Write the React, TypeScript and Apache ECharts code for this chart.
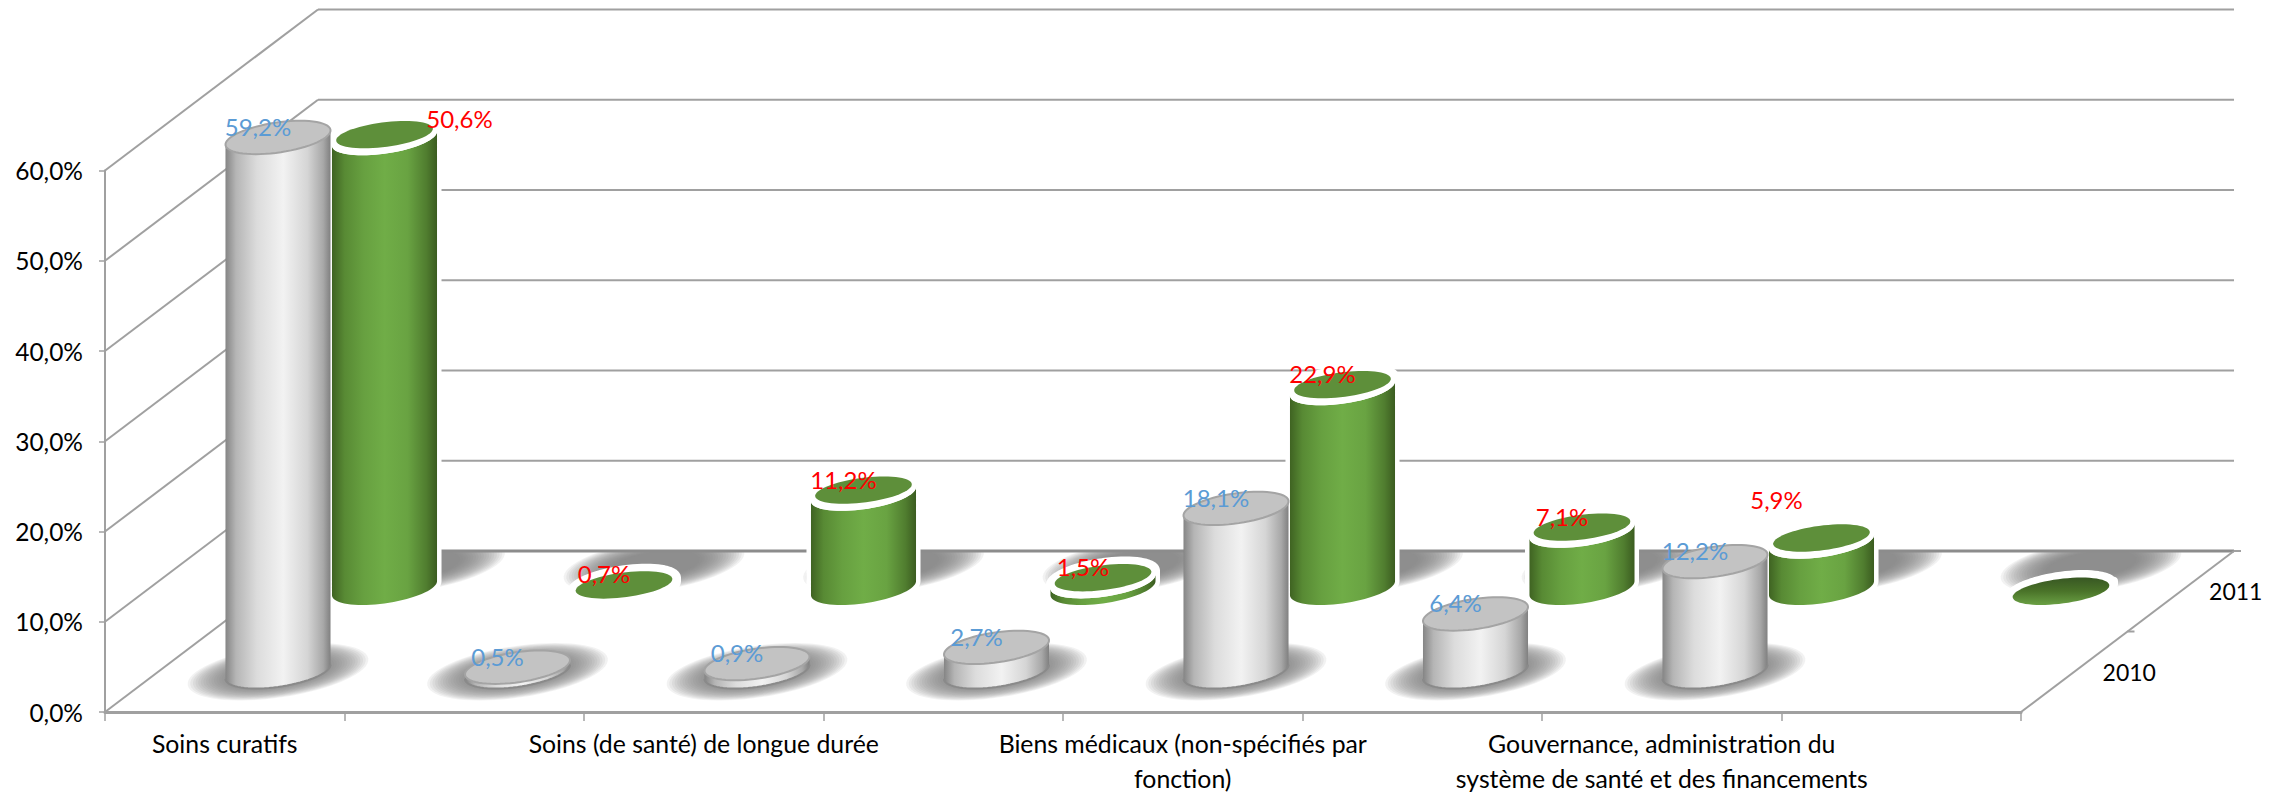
import React, { useEffect, useRef } from "react";
import * as echarts from "echarts";

const categories = [
  "Soins curatifs",
  "",
  "Soins (de santé) de longue durée",
  "",
  "Biens médicaux (non-spécifiés par\nfonction)",
  "",
  "Gouvernance, administration du\nsystème de santé et des financements",
  "",
];
const values2010: (number | null)[] = [59.2, 0.5, 0.9, 2.7, 18.1, 6.4, 12.2, null];
const values2011: (number | null)[] = [50.6, 0.7, 11.2, 1.5, 22.9, 7.1, 5.9, 0];
const yTicks = [0, 10, 20, 30, 40, 50, 60];
const seriesNames = ["2010", "2011"];

const DEPTH_X = 213;
const DEPTH_Y = -161;
const ROW_DEPTH = [0.25, 0.75];
const ELL_A = 47.6;
const ELL_BX = 22.2;
const ELL_BY = -16.7;
const T0 = Math.atan2(ELL_BX, ELL_A);
const FONT_FAMILY = "Lato, Carlito, sans-serif";
const LABEL_FONT = `24px ${FONT_FAMILY}`;
const DEPTH_FONT = `23px ${FONT_FAMILY}`;

const AXIS_GREY = "#a0a0a0";
const BLUE = "#5b9bd5";
const RED = "#ff0000";

function fmt(v: number) {
  return v.toFixed(1).replace(".", ",") + "%";
}

function pt(cx: number, cy: number, t: number, sx = 1, sy = 1) {
  return [
    cx + sx * (ELL_A * Math.cos(t) + ELL_BX * Math.sin(t)),
    cy + sy * ELL_BY * Math.sin(t),
  ];
}
function arc(cx: number, cy: number, from: number, to: number, sx = 1, sy = 1, n = 36) {
  const out: number[][] = [];
  for (let i = 0; i <= n; i++) out.push(pt(cx, cy, from + ((to - from) * i) / n, sx, sy));
  return out;
}
function fullEllipse(cx: number, cy: number, sx = 1, sy = 1) {
  return arc(cx, cy, 0, Math.PI * 2, sx, sy, 64);
}

function toData(vals: (number | null)[]) {
  const out: number[][] = [];
  vals.forEach((v, i) => {
    if (v !== null) out.push([i, v]);
  });
  return out;
}

const greyGrad = () =>
  new echarts.graphic.LinearGradient(0, 0, 1, 0, [
    { offset: 0, color: "#858585" },
    { offset: 0.1, color: "#b5b5b5" },
    { offset: 0.3, color: "#dcdcdc" },
    { offset: 0.55, color: "#f2f2f2" },
    { offset: 0.78, color: "#d5d5d5" },
    { offset: 0.93, color: "#a8a8a8" },
    { offset: 1, color: "#808080" },
  ]);
const greenGrad = () =>
  new echarts.graphic.LinearGradient(0, 0, 1, 0, [
    { offset: 0, color: "#3f6322" },
    { offset: 0.12, color: "#588a34" },
    { offset: 0.3, color: "#67a040" },
    { offset: 0.5, color: "#70ad47" },
    { offset: 0.72, color: "#69a342" },
    { offset: 0.9, color: "#507d2f" },
    { offset: 1, color: "#3b5c20" },
  ]);
const zeroGrad = () =>
  new echarts.graphic.LinearGradient(0, 0, 0, 1, [
    { offset: 0, color: "#385723" },
    { offset: 0.5, color: "#4a7329" },
    { offset: 1, color: "#6aa044" },
  ]);

function base(api: any, row: number) {
  const p = api.coord([api.value(0), 0]);
  const top = api.coord([api.value(0), api.value(1)]);
  const d = ROW_DEPTH[row];
  return {
    cx: p[0] + d * DEPTH_X,
    by: p[1] + d * DEPTH_Y,
    ty: top[1] + d * DEPTH_Y,
  };
}

function renderShadow(row: number) {
  return (_: any, api: any) => {
    const { cx, by } = base(api, row);
    const scx = row === 0 ? cx : cx + 30;
    const scy = row === 0 ? by : by - 26;
    const children: any[] = [];
    const layers = 18;
    for (let i = 0; i < layers; i++) {
      const s = 1.72 - (i / (layers - 1)) * 0.85;
      children.push({
        type: "polygon",
        shape: { points: fullEllipse(scx, scy, s, s) },
        style: { fill: "#808080", opacity: 0.1 },
        silent: true,
      });
    }
    return { type: "group", children };
  };
}

function renderCylinderGreen(_: any, api: any) {
  const { cx, by, ty } = base(api, 1);
  const v = api.value(1);
  const bottom = by - 3;
  const bodyTop = Math.min(ty + 4, bottom);
  const lowerB = arc(cx, bottom, T0 + Math.PI, T0 + 2 * Math.PI);
  const lowerT = arc(cx, bodyTop, T0 + Math.PI, T0 + 2 * Math.PI).reverse();
  const upperT = arc(cx, ty, T0, T0 + Math.PI);
  const children: any[] = [
    {
      type: "polygon",
      shape: { points: lowerB.concat(upperT) },
      style: { fill: "#fff", stroke: "#fff", lineWidth: 9, lineJoin: "round" },
    },
  ];
  if (v > 0) {
    children.push({
      type: "polygon",
      shape: { points: lowerB.concat(lowerT) },
      style: { fill: greenGrad() },
    });
    children.push({
      type: "polygon",
      shape: { points: fullEllipse(cx, bodyTop) },
      style: { fill: "#fff" },
    });
  }
  children.push({
    type: "polygon",
    shape: { points: fullEllipse(cx, ty, 0.92, 0.82) },
    style: { fill: v > 0 ? "#5e8f3a" : zeroGrad() },
  });
  return { type: "group", children };
}

function renderCylinderGrey(_: any, api: any) {
  const { cx, by, ty } = base(api, 0);
  const lowerB = arc(cx, by, T0 + Math.PI, T0 + 2 * Math.PI);
  const lowerT = arc(cx, ty, T0 + Math.PI, T0 + 2 * Math.PI).reverse();
  return {
    type: "group",
    children: [
      {
        type: "polygon",
        shape: { points: lowerB.concat(lowerT) },
        style: { fill: greyGrad() },
      },
      {
        type: "polyline",
        shape: { points: lowerB },
        style: { fill: "none", stroke: "#8a8a8a", lineWidth: 2 },
      },
      {
        type: "polygon",
        shape: { points: fullEllipse(cx, ty) },
        style: { fill: "#c3c3c3", stroke: "#a4a4a4", lineWidth: 2 },
      },
    ],
  };
}

// Hand-placed labels in the reference; the others sit at a fixed offset.
const labelNudge: Record<string, number[]> = {
  "1-0": [75, -16],
  "1-6": [-45, -39],
};

function renderLabel(row: number, color: string) {
  return (_: any, api: any) => {
    const { cx, ty } = base(api, row);
    const i = api.value(0);
    const v = api.value(1);
    if (v === 0) return { type: "group", children: [] };
    const n = labelNudge[`${row}-${i}`] || [-20, -11];
    return {
      type: "text",
      style: {
        text: fmt(v),
        x: cx + n[0],
        y: ty + n[1],
        fill: color,
        font: LABEL_FONT,
        textAlign: "center",
        textVerticalAlign: "middle",
      },
    };
  };
}

function renderMask(_: any, api: any) {
  const a = api.coord([0, 60]);
  const b = api.coord([0, 0]);
  const left = a[0] - api.size([1, 0])[0] / 2;
  return {
    type: "rect",
    shape: {
      x: left + DEPTH_X,
      y: a[1] + DEPTH_Y - 5,
      width: 2100,
      height: b[1] - a[1] + 5,
    },
    style: { fill: "#fff" },
  };
}

function renderWall(_: any, api: any) {
  const w = api.size([1, 0])[0];
  const p = api.coord([0, api.value(0)]);
  const x0 = p[0] - w / 2;
  const y0 = p[1];
  const x1 = x0 + DEPTH_X;
  const y1 = y0 + DEPTH_Y;
  const x2 = x1 + w * categories.length;
  return {
    type: "group",
    children: [
      {
        type: "line",
        shape: { x1: x0, y1: y0, x2: x1, y2: y1 },
        style: { stroke: AXIS_GREY, lineWidth: 2 },
      },
      {
        type: "line",
        shape: { x1, y1, x2, y2: y1 },
        style: {
          stroke: api.value(0) === 0 ? "#8c8c8c" : AXIS_GREY,
          lineWidth: api.value(0) === 0 ? 3 : 2,
        },
      },
    ],
  };
}

function renderDepthAxis(_: any, api: any) {
  const w = api.size([1, 0])[0];
  const p = api.coord([categories.length - 1, 0]);
  const x0 = p[0] + w / 2;
  const y0 = p[1];
  const children: any[] = [
    {
      type: "line",
      shape: { x1: x0, y1: y0, x2: x0 + DEPTH_X, y2: y0 + DEPTH_Y },
      style: { stroke: AXIS_GREY, lineWidth: 2 },
    },
  ];
  [0.5, 1].forEach((d) => {
    const x = x0 + d * DEPTH_X;
    const y = y0 + d * DEPTH_Y;
    children.push({
      type: "line",
      shape: { x1: x, y1: y, x2: x + 7, y2: y },
      style: { stroke: AXIS_GREY, lineWidth: 2 },
    });
  });
  seriesNames.forEach((name, r) => {
    children.push({
      type: "text",
      style: {
        text: name,
        x: x0 + ROW_DEPTH[r] * DEPTH_X + 55,
        y: y0 + ROW_DEPTH[r] * DEPTH_Y,
        fill: "#000",
        font: DEPTH_FONT,
        textAlign: "center",
        textVerticalAlign: "middle",
      },
    });
  });
  return { type: "group", children };
}

export default function App() {
  const ref = useRef<HTMLDivElement>(null);
  useEffect(() => {
    const chart = echarts.init(ref.current!, undefined, { renderer: "svg" });
    const d2010 = toData(values2010);
    const d2011 = toData(values2011);
    const custom = (data: any, renderItem: any, name: string) => ({
      type: "custom",
      name,
      data,
      renderItem,
      silent: true,
      clip: false,
      encode: { x: 0, y: 1 },
    });
    chart.setOption({
      animation: false,
      backgroundColor: "#fff",
      tooltip: { show: false },
      grid: {
        left: 105,
        top: 170.5,
        width: 1916,
        height: 541.5,
        containLabel: false,
        outerBoundsMode: "none",
      },
      xAxis: {
        type: "category",
        data: categories,
        boundaryGap: true,
        axisLine: { lineStyle: { color: AXIS_GREY, width: 3 } },
        axisTick: { show: true, interval: 0, length: 9, alignWithLabel: false, lineStyle: { color: AXIS_GREY, width: 1.5 } },
        axisLabel: {
          interval: 0,
          margin: 14,
          color: "#000",
          fontFamily: FONT_FAMILY,
          fontSize: 24.8,
          lineHeight: 35,
          hideOverlap: false,
        },
        splitLine: { show: false },
      },
      yAxis: {
        type: "value",
        min: 0,
        max: 60,
        interval: 10,
        axisLine: { show: true, lineStyle: { color: AXIS_GREY, width: 2 } },
        axisTick: { show: true, length: 6, lineStyle: { color: AXIS_GREY, width: 1.5 } },
        axisLabel: {
          margin: 22,
          color: "#000",
          fontFamily: FONT_FAMILY,
          fontSize: 24.5,
          formatter: (v: number) => fmt(v),
        },
        splitLine: { show: false },
      },
      series: [
        custom(d2011, renderShadow(1), "shadow 2011"),
        custom([[0, 60]], renderMask, "mask"),
        custom(yTicks.map((v) => [v]), renderWall, "walls"),
        custom([[0, 0]], renderDepthAxis, "depth"),
        custom(d2010, renderShadow(0), "shadow 2010"),
        custom(d2011, renderCylinderGreen, "2011"),
        custom(d2010, renderCylinderGrey, "2010"),
        custom(d2010, renderLabel(0, BLUE), "labels 2010"),
        custom(d2011, renderLabel(1, RED), "labels 2011"),
      ],
    });
    return () => chart.dispose();
  }, []);
  return (
    <div
      ref={ref}
      style={{ position: "absolute", left: 0, top: 0, width: 2288, height: 794 }}
    />
  );
}
